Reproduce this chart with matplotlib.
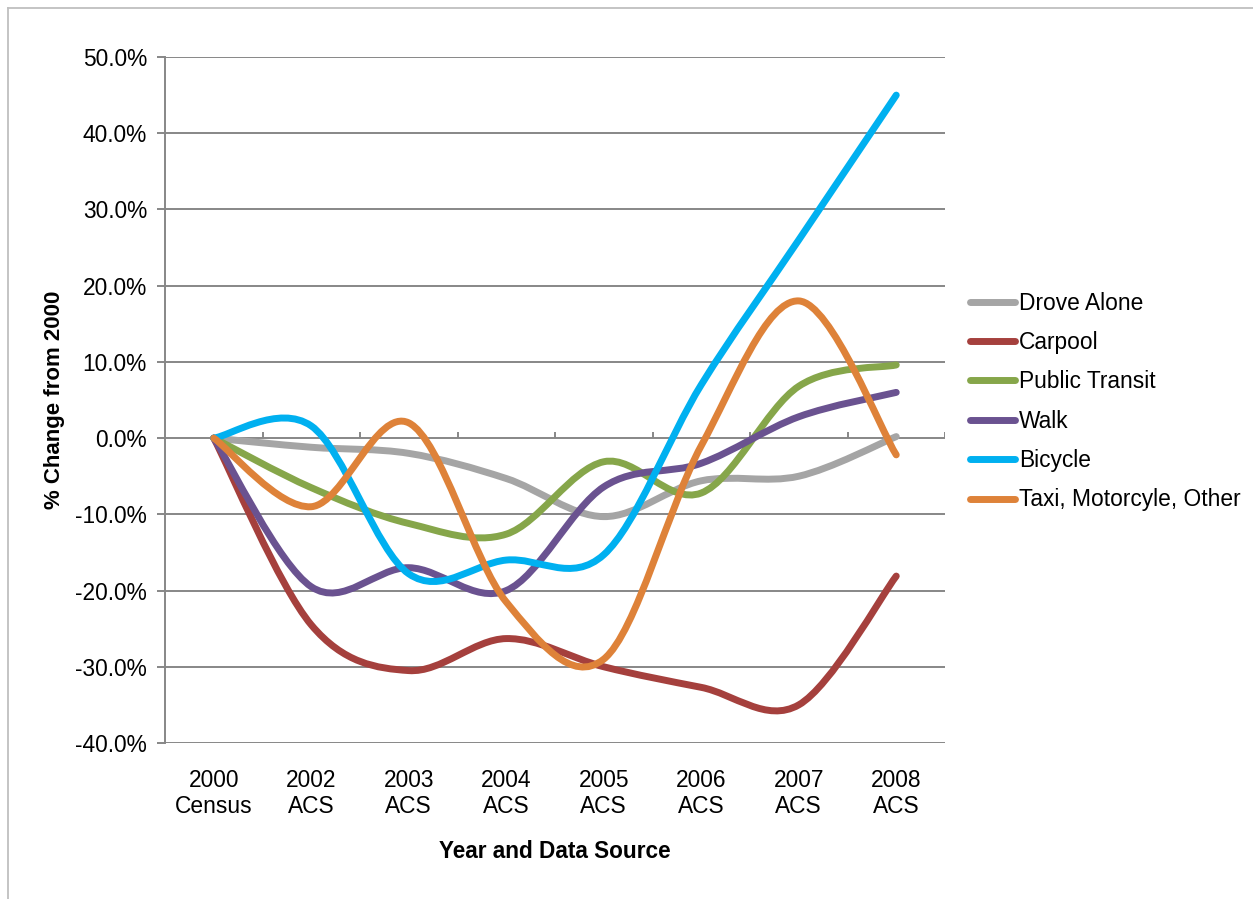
import matplotlib
matplotlib.use("Agg")
import matplotlib.pyplot as plt
from matplotlib.path import Path
from matplotlib.patches import PathPatch
from matplotlib.lines import Line2D
from matplotlib.ticker import FuncFormatter, FixedLocator
import numpy as np

plt.rcParams['font.family'] = ['Liberation Sans', 'DejaVu Sans']

categories = ["2000\nCensus", "2002\nACS", "2003\nACS", "2004\nACS",
              "2005\nACS", "2006\nACS", "2007\nACS", "2008\nACS"]

drove_alone = [0.0, -1.2, -2.0, -5.3, -10.3, -5.6, -5.0, 0.2]
carpool = [0.0, -24.5, -30.5, -26.3, -30.0, -32.7, -35.0, -18.1]
public_transit = [0.0, -6.5, -11.2, -12.6, -3.1, -7.2, 6.8, 9.6]
walk = [0.0, -19.5, -17.0, -20.0, -6.4, -3.3, 2.8, 6.0]
bicycle = [0.0, 1.6, -17.8, -16.0, -15.3, 7.0, 26.0, 45.0]
taxi_other = [0.0, -9.0, 2.0, -21.5, -29.0, -1.0, 18.0, -2.2]

series_names = ["Drove Alone", "Carpool", "Public Transit", "Walk",
                "Bicycle", "Taxi, Motorcyle, Other"]
series_values = [drove_alone, carpool, public_transit, walk, bicycle, taxi_other]
series_colors = ["#A5A5A5", "#A5403D", "#86A64A", "#6A5290", "#00B0F0", "#DE8239"]

W, H = 1253, 899
fig = plt.figure(figsize=(W / 100, H / 100), dpi=100)
ax = fig.add_axes([165 / W, 1 - 743 / H, (945 - 165) / W, (743 - 57) / H])

grid_color = "#878787"
LW = 5.0
FS = 16.4


def smooth_path(xs, ys):
    """Cubic Bezier path through the points (Catmull-Rom style smoothing)."""
    pts = np.column_stack([xs, ys]).astype(float)
    n = len(pts)
    verts = [pts[0]]
    codes = [Path.MOVETO]
    for i in range(n - 1):
        p0 = pts[i - 1] if i > 0 else pts[i]
        p1 = pts[i]
        p2 = pts[i + 1]
        p3 = pts[i + 2] if i + 2 < n else pts[i + 1]
        c1 = p1 + (p2 - p0) / 6.0
        c2 = p2 - (p3 - p1) / 6.0
        verts += [c1, c2, p2]
        codes += [Path.CURVE4] * 3
    return Path(verts, codes)


x = np.arange(len(categories))

ax.set_xlim(-0.5, len(categories) - 0.5)
ax.set_ylim(-40, 50)

# horizontal gridlines
for v in range(-40, 51, 10):
    ax.axhline(v, color=grid_color, lw=1.4, zorder=1)

for name, vals, col in zip(series_names, series_values, series_colors):
    p = smooth_path(x, vals)
    patch = PathPatch(p, facecolor="none", edgecolor=col, lw=LW,
                      capstyle="round", joinstyle="round", zorder=3)
    ax.add_patch(patch)

# category-axis tick marks sitting on the zero line
for b in np.arange(0.5, len(categories), 1.0):
    ax.plot([b, b], [0, 0.75], color=grid_color, lw=1.4, zorder=2,
            solid_capstyle="butt")

for s in ["top", "right", "bottom"]:
    ax.spines[s].set_visible(False)
ax.spines["left"].set_color(grid_color)
ax.spines["left"].set_linewidth(1.4)

ax.yaxis.set_major_locator(FixedLocator(list(range(-40, 51, 10))))
ax.yaxis.set_major_formatter(FuncFormatter(lambda v, pos: f"{v:.1f}%"))
ax.tick_params(axis="y", direction="out", length=6, width=1.4, color=grid_color,
               labelsize=FS, pad=7, labelcolor="black")

ax.set_xticks(x)
ax.set_xticklabels(categories, fontsize=FS, linespacing=1.12)
ax.tick_params(axis="x", length=0, pad=19, labelcolor="black")

ax.set_xlabel("Year and Data Source", fontsize=16.3, fontweight="bold", labelpad=16.5)
ax.set_ylabel("% Change from 2000", fontsize=16, fontweight="bold", labelpad=7)

handles = [Line2D([0], [0], color=c, lw=LW, solid_capstyle="round")
           for c in series_colors]
leg = fig.legend(handles, series_names, loc="center left",
                 bbox_to_anchor=(961 / W, 1 - 401.5 / H), frameon=False,
                 fontsize=FS, handlelength=1.95, handletextpad=0.2,
                 labelspacing=0.72, borderaxespad=0)

# outer chart border
fig.add_artist(Line2D([8 / W, 8 / W], [0, 1 - 8 / H], color="#BFBFBF", lw=1.3,
                      transform=fig.transFigure))
fig.add_artist(Line2D([8 / W, 1], [1 - 8 / H, 1 - 8 / H], color="#BFBFBF", lw=1.3,
                      transform=fig.transFigure))

fig.savefig("out.png", dpi=100)
